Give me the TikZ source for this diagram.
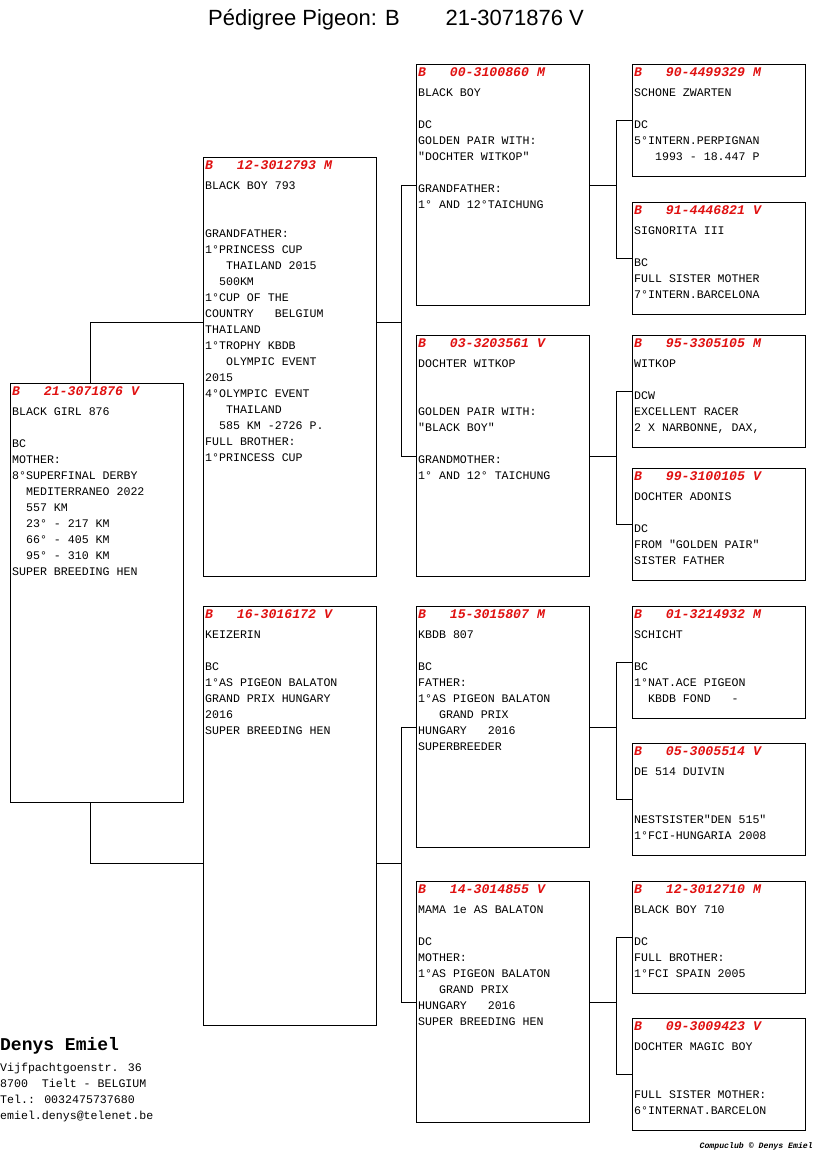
\documentclass[tikz,border=0pt]{standalone}
\usepackage{fontspec}
\setmainfont{Liberation Sans}
\newfontfamily\monof{Liberation Mono}
\usetikzlibrary{calc}
\definecolor{hdrred}{RGB}{224,16,16}
\tikzset{
  pbox/.style={draw, line width=0.9pt, anchor=north west, minimum width=173pt, inner sep=0pt},
  hdr/.style={anchor=base west, inner sep=0pt, text=hdrred, font=\monof\bfseries\itshape\fontsize{13.2}{16}\selectfont},
  bodytxt/.style={anchor=base west, inner sep=0pt, font=\monof\fontsize{11.6}{16}\selectfont},
  link/.style={line width=0.9pt},
  titletxt/.style={inner sep=0pt, font=\fontsize{22}{24}\selectfont},
}
\newcommand\pigeon[6]{%
  \node[pbox, minimum height=#3pt] (#4) at (#1,#2) {};
  \node[hdr] (#4h) at (#1+2,#2+12) {#5};
  \node[bodytxt] (#4t) at (#1+2,#2+32.5) {\begin{tabular}[t]{@{}l@{}}#6\end{tabular}};
}
\begin{document}
\begin{tikzpicture}[x=1pt,y=-1pt]
\useasboundingbox (0,0) rectangle (816,1172);
% title
\node[titletxt, anchor=base west] (title1) at (208,26) {Pédigree Pigeon: B};
\node[titletxt, anchor=base east] (title2) at (584,26) {21-3071876 V};
% generation 1
\pigeon{10}{383}{419}{g1}{B~~~21-3071876~V}{BLACK GIRL 876\\ \\BC\\MOTHER:\\8°SUPERFINAL DERBY\\~~MEDITERRANEO 2022\\~~557 KM\\~~23°~-~217 KM\\~~66°~-~405 KM\\~~95°~-~310 KM\\SUPER BREEDING HEN}
% generation 2
\pigeon{203}{157}{419}{g2a}{B~~~12-3012793~M}{BLACK BOY 793\\ \\ \\GRANDFATHER:\\1°PRINCESS CUP\\~~~THAILAND 2015\\~~500KM\\1°CUP OF THE\\COUNTRY~~~BELGIUM\\THAILAND\\1°TROPHY KBDB\\~~~OLYMPIC EVENT\\2015\\4°OLYMPIC EVENT\\~~~THAILAND\\~~585 KM -2726 P.\\FULL BROTHER:\\1°PRINCESS CUP}
\pigeon{203}{606}{419}{g2b}{B~~~16-3016172~V}{KEIZERIN\\ \\BC\\1°AS PIGEON BALATON\\GRAND PRIX HUNGARY\\2016\\SUPER BREEDING HEN}
% generation 3
\pigeon{416}{64}{241}{g3a}{B~~~00-3100860~M}{BLACK BOY\\ \\DC\\GOLDEN PAIR WITH:\\"DOCHTER WITKOP"\\ \\GRANDFATHER:\\1°~AND 12°TAICHUNG}
\pigeon{416}{335}{241}{g3b}{B~~~03-3203561~V}{DOCHTER WITKOP\\ \\ \\GOLDEN PAIR WITH:\\"BLACK BOY"\\ \\GRANDMOTHER:\\1°~AND 12°~TAICHUNG}
\pigeon{416}{606}{241}{g3c}{B~~~15-3015807~M}{KBDB 807\\ \\BC\\FATHER:\\1°AS PIGEON BALATON\\~~~GRAND PRIX\\HUNGARY~~~2016\\SUPERBREEDER}
\pigeon{416}{881}{241}{g3d}{B~~~14-3014855~V}{MAMA 1e AS BALATON\\ \\DC\\MOTHER:\\1°AS PIGEON BALATON\\~~~GRAND PRIX\\HUNGARY~~~2016\\SUPER BREEDING HEN}
% generation 4
\pigeon{632}{64}{112}{g4a}{B~~~90-4499329~M}{SCHONE ZWARTEN\\ \\DC\\5°INTERN.PERPIGNAN\\~~~1993~-~18.447~P}
\pigeon{632}{202}{112}{g4b}{B~~~91-4446821~V}{SIGNORITA III\\ \\BC\\FULL SISTER MOTHER\\7°INTERN.BARCELONA}
\pigeon{632}{335}{112}{g4c}{B~~~95-3305105~M}{WITKOP\\ \\DCW\\EXCELLENT RACER\\2 X NARBONNE, DAX,}
\pigeon{632}{468}{112}{g4d}{B~~~99-3100105~V}{DOCHTER ADONIS\\ \\DC\\FROM "GOLDEN PAIR"\\SISTER FATHER}
\pigeon{632}{606}{112}{g4e}{B~~~01-3214932~M}{SCHICHT\\ \\BC\\1°NAT.ACE PIGEON\\~~KBDB FOND~~~-}
\pigeon{632}{743}{112}{g4f}{B~~~05-3005514~V}{DE 514 DUIVIN\\ \\ \\NESTSISTER"DEN 515"\\1°FCI-HUNGARIA 2008}
\pigeon{632}{881}{112}{g4g}{B~~~12-3012710~M}{BLACK BOY 710\\ \\DC\\FULL BROTHER:\\1°FCI SPAIN 2005}
\pigeon{632}{1018}{112}{g4h}{B~~~09-3009423~V}{DOCHTER MAGIC BOY\\ \\ \\FULL SISTER MOTHER:\\6°INTERNAT.BARCELON}
% connectors gen1 -> gen2
\coordinate (ja) at (90,322);
\coordinate (jb) at (90,863);
\draw[link] (g1.north -| ja) -- (ja) -- (g2a.west |- ja);
\draw[link] (g1.south -| jb) -- (jb) -- (g2b.west |- jb);
% gen2 -> gen3
\coordinate (ka) at (401,322);
\coordinate (kb) at (401,863);
\draw[link] (g2a.east |- ka) -- (ka);
\draw[link] (ka |- g3a.west) -- (ka |- g3b.west);
\draw[link] (ka |- g3a.west) -- (g3a.west);
\draw[link] (ka |- g3b.west) -- (g3b.west);
\draw[link] (g2b.east |- kb) -- (kb);
\draw[link] (kb |- g3c.west) -- (kb |- g3d.west);
\draw[link] (kb |- g3c.west) -- (g3c.west);
\draw[link] (kb |- g3d.west) -- (g3d.west);
% gen3 -> gen4
\coordinate (ma) at (616,0);
\foreach \p/\a/\b in {g3a/g4a/g4b, g3b/g4c/g4d, g3c/g4e/g4f, g3d/g4g/g4h}{
  \draw[link] (\p.east) -- (\p.east -| ma);
  \draw[link] (ma |- \a.west) -- (ma |- \b.west);
  \draw[link] (ma |- \a.west) -- (\a.west);
  \draw[link] (ma |- \b.west) -- (\b.west);
}
% footer
\node[anchor=base west, inner sep=0pt, font=\monof\bfseries\fontsize{18}{20}\selectfont] (fname) at (0,1050) {Denys Emiel};
\node[bodytxt] (faddr) at (0,1071) {\begin{tabular}[t]{@{}l@{}}Vijfpachtgoenstr. 36\\8700~~Tielt - BELGIUM\\Tel.: 0032475737680\\emiel.denys@telenet.be\end{tabular}};
\node[anchor=base east, inner sep=0pt, font=\monof\bfseries\itshape\fontsize{8.2}{10}\selectfont] (fcopy) at (813,1148) {Compuclub © Denys Emiel};
\end{tikzpicture}
\end{document}
